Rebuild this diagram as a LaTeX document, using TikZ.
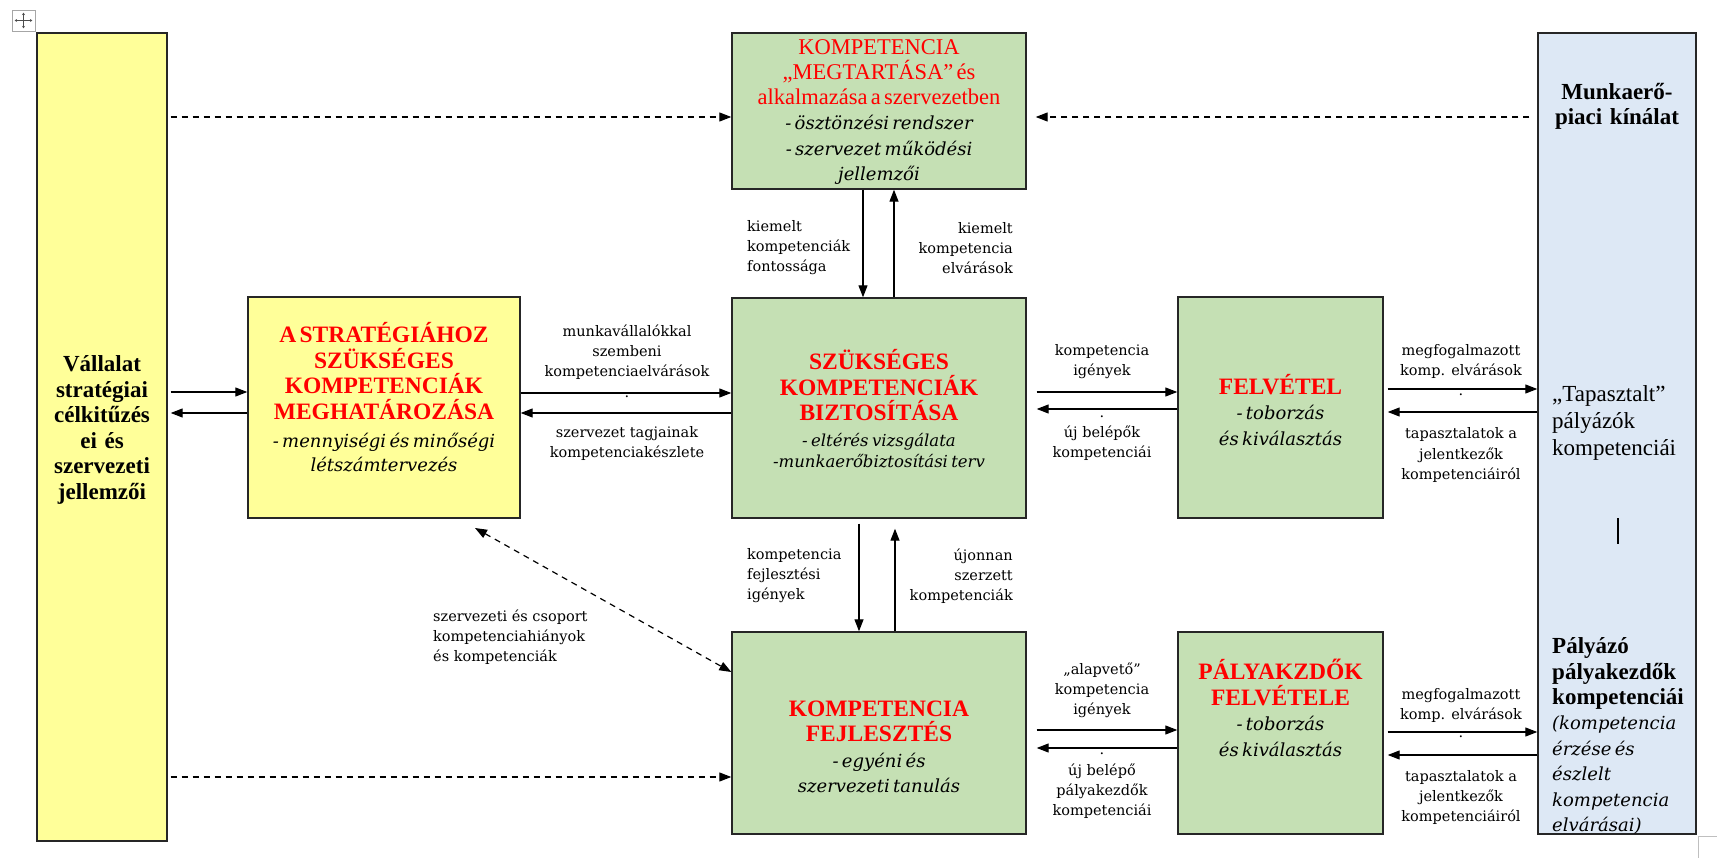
\documentclass[tikz,border=0pt]{standalone}
\usepackage{fontspec}
\setmainfont{Liberation Serif}
\newfontfamily\dv{DejaVu Serif}
\usetikzlibrary{arrows.meta}
\definecolor{yfill}{RGB}{255,255,153}
\definecolor{gfill}{RGB}{197,224,180}
\definecolor{bfill}{RGB}{221,232,245}
\newcommand{\fHead}{\color{red}\bfseries\fontsize{23.5}{25.5}\selectfont}
\newcommand{\fSub}{\color{black}\dv\mdseries\itshape\fontsize{18}{25.5}\selectfont}
\newcommand{\fSubS}{\color{black}\dv\mdseries\itshape\fontsize{16.5}{25}\selectfont}
\tikzset{
  box/.style={draw=black!85, line width=1.4pt, inner sep=0pt},
  ybox/.style={box, fill=yfill},
  gbox/.style={box, fill=gfill},
  bbox/.style={box, fill=bfill},
  txt/.style={inner sep=0pt, align=center},
  lbl/.style={inner sep=0pt, align=center, font=\dv\fontsize{14.5}{20}\selectfont},
  dotl/.style={inner sep=0pt, font=\dv\fontsize{14.5}{20}\selectfont},
  arr/.style={line width=1.2pt, -{Triangle[length=12pt,width=9pt]}},
  darr/.style={arr, dash pattern=on 6pt off 5pt},
}
\begin{document}
\begin{tikzpicture}[x=1pt,y=-1pt]
\useasboundingbox (0,0) rectangle (1717,858);

% move handle icon and corner box
\node[draw=gray!70, line width=0.8pt, minimum width=23pt, minimum height=21pt, inner sep=0pt] (mv) at (23.5,20.5) {};
\draw[gray!60!black, line width=0.6pt, {Stealth[length=2.5pt,width=3pt]}-{Stealth[length=2.5pt,width=3pt]}] ([xshift=3pt]mv.west) -- ([xshift=-3pt]mv.east);
\draw[gray!60!black, line width=0.6pt, {Stealth[length=2.5pt,width=3pt]}-{Stealth[length=2.5pt,width=3pt]}] ([yshift=-3pt]mv.north) -- ([yshift=3pt]mv.south);
\node[draw=gray!50, line width=0.8pt, minimum width=24pt, minimum height=26pt, inner sep=0pt] (br) at (1710,849) {};

% boxes
\node[ybox, minimum width=130pt, minimum height=808pt] (L) at (102,437) {};
\node[ybox, minimum width=272pt, minimum height=221pt] (S) at (384,407.5) {};
\node[gbox, minimum width=294pt, minimum height=156pt] (T) at (879,111) {};
\node[gbox, minimum width=294pt, minimum height=220pt] (C) at (879,408) {};
\node[gbox, minimum width=205pt, minimum height=221pt] (F) at (1280.5,407.5) {};
\node[gbox, minimum width=294pt, minimum height=202pt] (D) at (879,733) {};
\node[gbox, minimum width=205pt, minimum height=202pt] (P) at (1280.5,733) {};
\node[bbox, minimum width=158pt, minimum height=801pt] (R) at (1617,433.5) {};

% box texts
\node[txt, text width=126pt, font=\bfseries\fontsize{23}{25.5}\selectfont] (Lt) at (102,430)
  {Vállalat\\stratégiai\\célkitűzés\\ei és\\szervezeti\\jellemzői};
\node[txt, text width=290pt] (Tt) at (879,112)
  {\color{red}\fontsize{22.5}{25}\selectfont KOMPETENCIA\\„MEGTARTÁSA” és\\alkalmazása a szervezetben\\
   \fSub - ösztönzési rendszer\\- szervezet működési\\jellemzői\par};
\node[txt, text width=268pt] (St) at (384,397)
  {\fHead A STRATÉGIÁHOZ\\SZÜKSÉGES\\KOMPETENCIÁK\\MEGHATÁROZÁSA\\[3pt]
   \fSub - mennyiségi és minőségi\\[-2pt]létszámtervezés\par};
\node[txt, text width=290pt] (Ct) at (879,409)
  {\fHead SZÜKSÉGES\\KOMPETENCIÁK\\BIZTOSÍTÁSA\\[1pt]
   \fSubS - eltérés vizsgálata\\[-4pt]-munkaerőbiztosítási terv\par};
\node[txt, text width=200pt] (Ft) at (1280.5,410)
  {\fHead FELVÉTEL\\ \fSub - toborzás\\és kiválasztás\par};
\node[txt, text width=290pt] (Dt) at (879,747)
  {\fHead KOMPETENCIA\\FEJLESZTÉS\\ \fSub - egyéni és\\szervezeti tanulás\par};
\node[txt, text width=200pt] (Pt) at (1280.5,708)
  {\fHead PÁLYAKZDŐK\\FELVÉTELE\\ \fSub - toborzás\\és kiválasztás\par};
\node[txt, text width=150pt, font=\bfseries\fontsize{23}{25}\selectfont] (Rt1) at (1617,106)
  {Munkaerő-\\piaci kínálat};
\node[txt, align=left, anchor=west, text width=140pt, font=\fontsize{23}{27}\selectfont] (Rt2) at (1552,423)
  {„Tapasztalt”\\pályázók\\kompetenciái};
\node[txt, align=left, anchor=west, text width=142pt] (Rt3) at (1552,736)
  {\bfseries\fontsize{23}{25.4}\selectfont Pályázó\\pályakezdők\\kompetenciái\\
   \dv\mdseries\itshape\fontsize{18}{25.4}\selectfont (kompetencia\\érzése és\\észlelt\\kompetencia\\elvárásai)\par};
\draw[line width=1.2pt] (1618,518) -- (1618,544);

% arrow labels
\node[lbl] (l1) at (627,352) {munkavállalókkal\\szembeni\\kompetenciaelvárások};
\node[lbl] (l2) at (627,443) {szervezet tagjainak\\kompetenciakészlete};
\node[lbl, align=left, anchor=west] (l3) at (747,248) {kiemelt\\kompetenciák\\fontossága};
\node[lbl, align=right, anchor=east] (l4) at (1013,248) {kiemelt\\kompetencia\\elvárások};
\node[lbl] (l5) at (1102,362) {kompetencia\\igények};
\node[lbl] (l6) at (1102,443) {új belépők\\kompetenciái};
\node[lbl] (l7) at (1461,362) {megfogalmazott\\komp. elvárások};
\node[lbl] (l8) at (1461,455) {tapasztalatok a\\jelentkezők\\kompetenciáiról};
\node[lbl, align=left, anchor=west] (l9) at (747,576) {kompetencia\\fejlesztési\\igények};
\node[lbl, align=right, anchor=east] (l10) at (1013,576) {újonnan\\szerzett\\kompetenciák};
\node[lbl, align=left, anchor=west] (l11) at (433,637) {szervezeti és csoport\\kompetenciahiányok\\és kompetenciák};
\node[lbl] (l12) at (1102,690) {„alapvető”\\kompetencia\\igények};
\node[lbl] (l13) at (1102,791) {új belépő\\pályakezdők\\kompetenciái};
\node[lbl] (l14) at (1461,705) {megfogalmazott\\komp. elvárások};
\node[lbl] (l15) at (1461,797) {tapasztalatok a\\jelentkezők\\kompetenciáiról};
\node[dotl] (d1) at (627,397) {.};
\node[dotl] (d2) at (1102,417) {.};
\node[dotl] (d3) at (1461,395) {.};
\node[dotl] (d4) at (1461,737) {.};
\node[dotl] (d5) at (1102,754) {.};

% solid arrows
\draw[arr, shorten <=3pt] (L.east|-0,392) -- (S.west|-0,392);
\draw[arr, shorten >=3pt] (S.west|-0,413) -- (L.east|-0,413);
\draw[arr] (S.east|-0,393) -- (C.west|-0,393);
\draw[arr] (C.west|-0,413) -- (S.east|-0,413);
\draw[arr, shorten <=10pt] (C.east|-0,392) -- (F.west|-0,392);
\draw[arr, shorten >=10pt] (F.west|-0,409) -- (C.east|-0,409);
\draw[arr, shorten <=4pt] (F.east|-0,389) -- (R.west|-0,389);
\draw[arr, shorten >=4pt] (R.west|-0,412) -- (F.east|-0,412);
\draw[arr] (T.south-|863,0) -- (C.north-|863,0);
\draw[arr] (C.north-|894,0) -- (T.south-|894,0);
\draw[arr, shorten <=5pt] (C.south-|859,0) -- (D.north-|859,0);
\draw[arr, shorten >=10pt] (D.north-|895,0) -- (C.south-|895,0);
\draw[arr, shorten <=10pt] (D.east|-0,730) -- (P.west|-0,730);
\draw[arr, shorten >=10pt] (P.west|-0,748) -- (D.east|-0,748);
\draw[arr, shorten <=4pt] (P.east|-0,732) -- (R.west|-0,732);
\draw[arr, shorten >=4pt] (R.west|-0,755) -- (P.east|-0,755);

% dashed arrows
\draw[darr, shorten <=3pt] (L.east|-0,117) -- (T.west|-0,117);
\draw[darr, shorten <=8pt, shorten >=9pt] (R.west|-0,117) -- (T.east|-0,117);
\draw[darr, shorten <=3pt] (L.east|-0,777) -- (D.west|-0,777);
\coordinate (sdA) at (475,528);
\draw[darr, {Triangle[length=12pt,width=9pt]}-{Triangle[length=12pt,width=9pt]}] (sdA) -- (D.west|-0,672);
\end{tikzpicture}
\end{document}
